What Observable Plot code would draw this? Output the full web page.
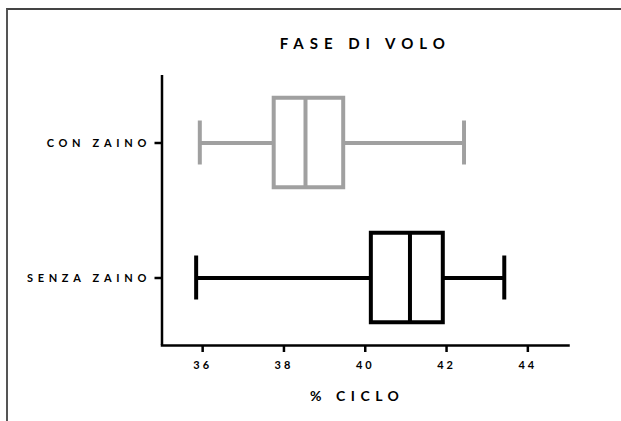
<!DOCTYPE html>
<html>
<head>
<meta charset="utf-8">
<script src="https://cdn.jsdelivr.net/npm/d3@7"></script>
<script src="https://cdn.jsdelivr.net/npm/@observablehq/plot@0.6"></script>
<style>
  html, body { margin: 0; padding: 0; background: #fff; }
  #wrap { position: relative; width: 621px; height: 421px; overflow: hidden; background: #fff; }
  #border { position: absolute; left: 5.5px; top: 8px; right: -10px; bottom: -10px;
            border-top: 2px solid #444; border-left: 2px solid #555; pointer-events: none; }
  #chart { position: absolute; left: 0; top: 0; }
</style>
</head>
<body>
<div id="wrap"><div id="chart"></div><div id="border"></div></div>
<script>
const categories = ["CON ZAINO", "SENZA ZAINO"];
const mins    = [35.93, 35.84];
const q1s     = [37.76, 40.15];
const medians = [38.53, 41.10];
const q3s     = [39.47, 41.92];
const maxs    = [42.43, 43.42];
const xTicks  = [36, 38, 40, 42, 44];
const titleText = "FASE DI VOLO";
const xLabel = "% CICLO";

const data = categories.map((c, i) => ({
  cat: c, min: mins[i], q1: q1s[i], med: medians[i], q3: q3s[i], max: maxs[i]
}));

const font = "Lato, 'Open Sans', sans-serif";
const sw = 4;

const chart = Plot.plot({
  width: 621,
  height: 421,
  marginLeft: 161.5,
  marginRight: 53,
  marginTop: 75,
  marginBottom: 76,
  style: { fontFamily: font, background: "transparent", color: "#000" },
  x: { domain: [35, 45], ticks: xTicks },
  y: { type: "band", domain: categories, padding: 0 },
  color: { domain: categories, range: ["#a0a0a0", "#000000"] },
  marks: [
    Plot.axisX({ ticks: xTicks, tickSize: 7, strokeWidth: 2.5, tickPadding: 9,
                 fontSize: 11, fontWeight: "bold", label: null }),
    Plot.axisY({ tickSize: 7, strokeWidth: 2.5, tickPadding: 4,
                 fontSize: 11, fontWeight: "bold", label: null }),
    Plot.ruleX([35], { strokeWidth: 2.5, stroke: "#000" }),
    Plot.frame({ anchor: "bottom", strokeWidth: 2.5, stroke: "#000" }),
    // whiskers
    Plot.ruleY(data, { y: "cat", x1: "min", x2: "q1", stroke: "cat", strokeWidth: sw }),
    Plot.ruleY(data, { y: "cat", x1: "q3", x2: "max", stroke: "cat", strokeWidth: sw }),
    Plot.tickX(data, { x: "min", y: "cat", stroke: "cat", strokeWidth: sw, insetTop: 45.5, insetBottom: 45.5 }),
    Plot.tickX(data, { x: "max", y: "cat", stroke: "cat", strokeWidth: sw, insetTop: 45.5, insetBottom: 45.5 }),
    // boxes
    Plot.barX(data, { x1: "q1", x2: "q3", y: "cat", fill: "white", stroke: "cat", strokeWidth: sw,
                      insetTop: 22.75, insetBottom: 22.75 }),
    Plot.tickX(data, { x: "med", y: "cat", stroke: "cat", strokeWidth: sw, insetTop: 22.75, insetBottom: 22.75 }),
    // title and axis label
    Plot.text([titleText], { text: d => d, frameAnchor: "top", dy: -37, dx: 0,
                             fontSize: 15, fontWeight: "bold", fill: "#000",
                             ariaDescription: "title" }),
    Plot.text([xLabel], { text: d => d, frameAnchor: "bottom", dy: 55, dx: -8,
                          fontSize: 14, fontWeight: "bold", fill: "#000",
                          ariaDescription: "xlabel" })
  ]
});

document.getElementById("chart").appendChild(chart);
const svg = d3.select(chart);
svg.selectAll('[aria-label="y-axis tick label"] text').style("letter-spacing", "4.7px");
svg.selectAll('[aria-label="x-axis tick label"] text').style("letter-spacing", "3px");
svg.selectAll('[aria-description="title"] text').style("letter-spacing", "6px");
svg.selectAll('[aria-description="xlabel"] text').style("letter-spacing", "5.5px");
</script>
</body>
</html>
